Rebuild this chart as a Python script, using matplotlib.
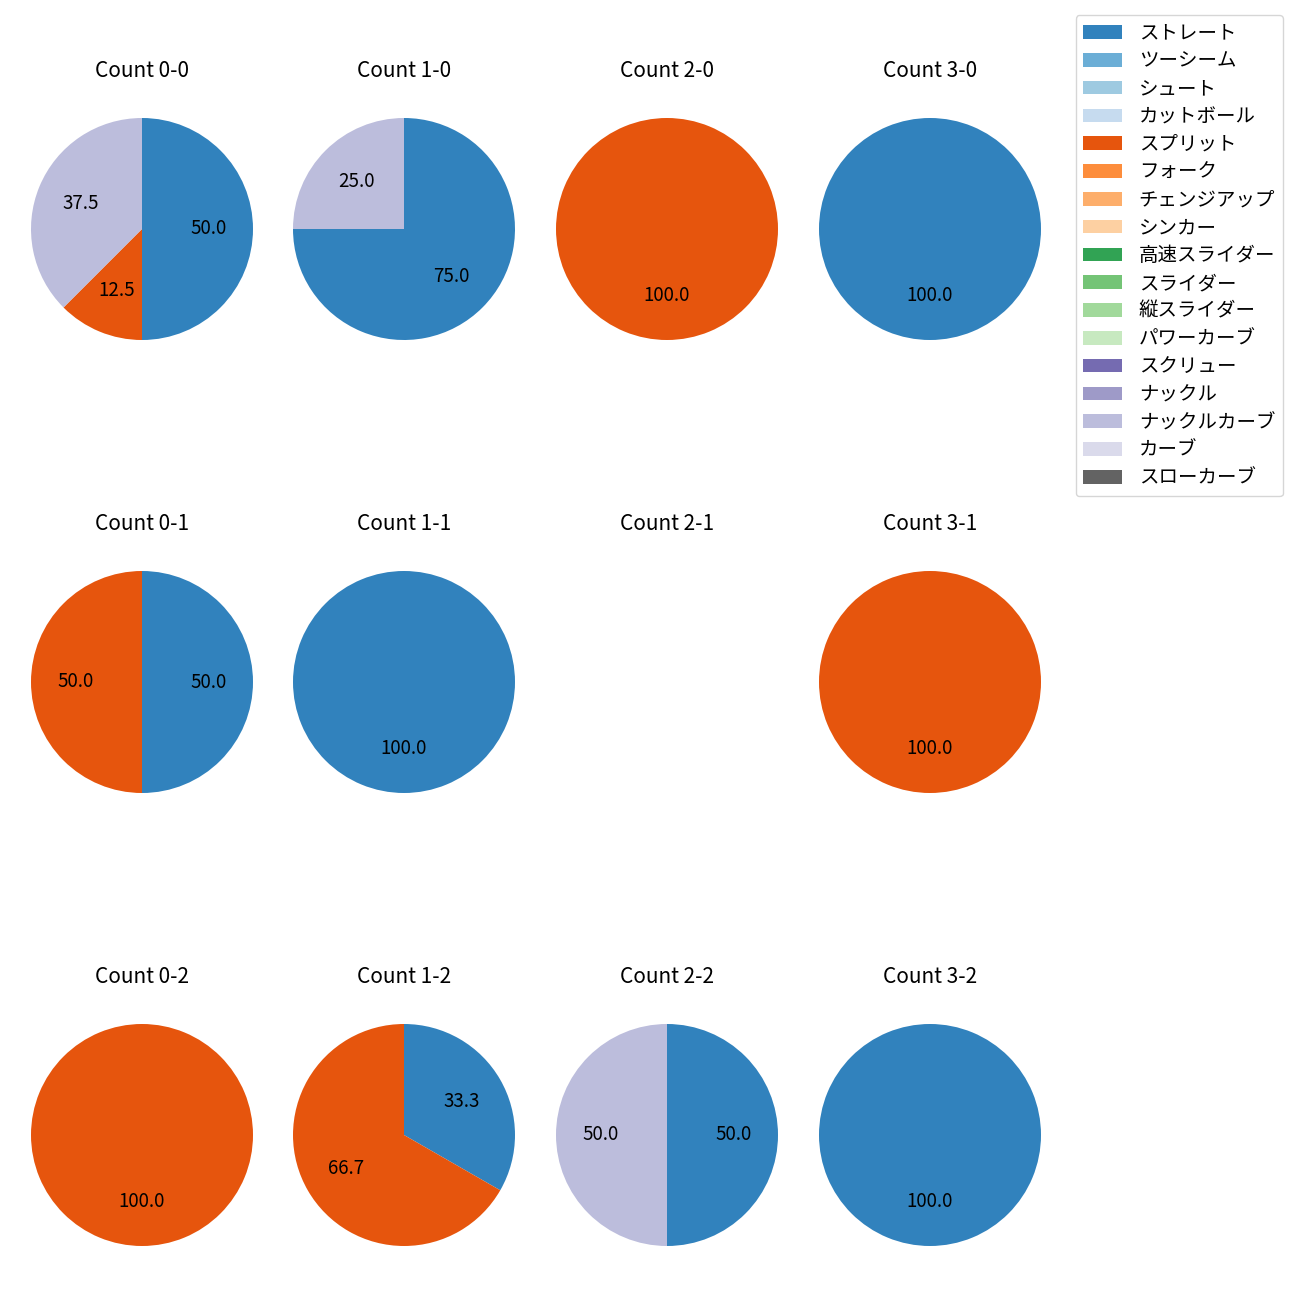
import matplotlib
matplotlib.use("Agg")
import matplotlib.pyplot as plt
from matplotlib.patches import Patch

plt.rcParams['font.family'] = ['Noto Sans CJK JP', 'DejaVu Sans']
plt.rcParams['font.size'] = 12

pitch_types = ["ストレート", "ツーシーム", "シュート", "カットボール", "スプリット", "フォーク",
               "チェンジアップ", "シンカー", "高速スライダー", "スライダー", "縦スライダー",
               "パワーカーブ", "スクリュー", "ナックル", "ナックルカーブ", "カーブ", "スローカーブ"]

counts = ["0-0", "1-0", "2-0", "3-0",
          "0-1", "1-1", "2-1", "3-1",
          "0-2", "1-2", "2-2", "3-2"]

# share (%) per count for: ストレート, スプリット, ナックルカーブ (others 0)
straight = [50.0, 75.0, 0.0, 100.0, 50.0, 100.0, 0.0, 0.0, 0.0, 33.3, 50.0, 100.0]
split = [12.5, 0.0, 100.0, 0.0, 50.0, 0.0, 0.0, 100.0, 100.0, 66.7, 0.0, 0.0]
knuckle_curve = [37.5, 25.0, 0.0, 0.0, 0.0, 0.0, 0.0, 0.0, 0.0, 0.0, 50.0, 0.0]

cmap = plt.get_cmap('tab20c')
colors = [cmap(i) for i in range(17)]

fig = plt.figure(figsize=(13, 13), dpi=100)
W = H = 1300.0
cx = [142, 404, 667, 930]
cy = [229, 682, 1135]
r = 111.0
half = 1.25 * r

for i, c in enumerate(counts):
    row, col = divmod(i, 4)
    x0 = (cx[col] - half) / W
    y0 = 1 - (cy[row] + half) / H
    ax = fig.add_axes([x0, y0, 2 * half / W, 2 * half / H])
    vals = [0.0] * 17
    vals[0] = straight[i]
    vals[4] = split[i]
    vals[14] = knuckle_curve[i]
    sel = [(v, colors[k]) for k, v in enumerate(vals) if v > 0]
    if sel:
        ax.pie([v for v, _ in sel], colors=[cc for _, cc in sel], startangle=90,
               counterclock=False, autopct='%.1f', textprops={'fontsize': 13.5})
    ax.set_xlim(-1.25, 1.25)
    ax.set_ylim(-1.25, 1.25)
    ax.set_aspect('equal')
    ax.axis('off')
    ax.set_title(f"Count {c}", fontsize=15, pad=9.5)

handles = [Patch(facecolor=colors[k], label=pitch_types[k]) for k in range(17)]
fig.legend(handles=handles, loc='upper right', bbox_to_anchor=(1283 / W, 1 - 15 / H),
           borderaxespad=0, fontsize=14, labelspacing=0.35, handletextpad=0.85)

fig.savefig('out.png', dpi=100)
